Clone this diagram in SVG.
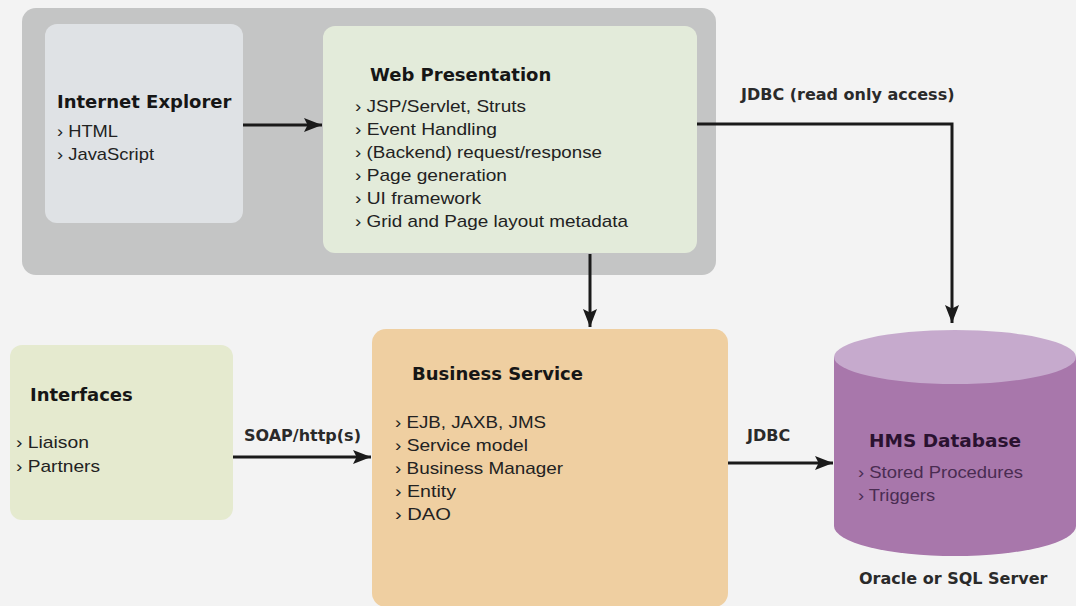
<svg xmlns="http://www.w3.org/2000/svg" width="1076" height="606" viewBox="0 0 1076 606">
<defs>
<marker id="ahb" viewBox="0 0 10 10" refX="10" refY="5" markerWidth="18" markerHeight="14" markerUnits="userSpaceOnUse" orient="auto" preserveAspectRatio="none">
<path d="M0,0 L10,5 L0,10 L2,5 z" fill="#1a1a1a"/>
</marker>
</defs>
<style>
.t{font-family:"DejaVu Sans",Verdana,sans-serif;font-weight:bold;font-size:18px;fill:#161616}
.i{font-family:"Liberation Sans",Arial,sans-serif;font-size:17px;fill:#222}
.l{font-family:"DejaVu Sans",Verdana,sans-serif;font-weight:bold;font-size:16px;fill:#2a2a2a}
.d{font-family:"Liberation Sans",Arial,sans-serif;font-size:17px;fill:#4a2c52}
.c{fill:none;stroke:#1a1a1a;stroke-width:3}
</style>
<rect width="1076" height="606" fill="#f3f3f3"/>
<g id="tier">
<rect x="22" y="8" width="694" height="267" rx="14" fill="#c4c5c5"/>
</g>
<g id="ie">
<rect x="45" y="24" width="198" height="199" rx="12" fill="#dfe2e5"/>
<text class="t" x="57" y="108">Internet Explorer</text>
<text class="i" x="57" y="137" textLength="61" lengthAdjust="spacingAndGlyphs">› HTML</text>
<text class="i" x="57" y="160" textLength="97" lengthAdjust="spacingAndGlyphs">› JavaScript</text>
</g>
<g id="web">
<rect x="323" y="26" width="374" height="227" rx="12" fill="#e3ebda"/>
<text class="t" x="370" y="81">Web Presentation</text>
<text class="i" x="355" y="112" textLength="171" lengthAdjust="spacingAndGlyphs">› JSP/Servlet, Struts</text>
<text class="i" x="355" y="135" textLength="142" lengthAdjust="spacingAndGlyphs">› Event Handling</text>
<text class="i" x="355" y="158" textLength="247" lengthAdjust="spacingAndGlyphs">› (Backend) request/response</text>
<text class="i" x="355" y="181" textLength="152" lengthAdjust="spacingAndGlyphs">› Page generation</text>
<text class="i" x="355" y="204" textLength="126" lengthAdjust="spacingAndGlyphs">› UI framework</text>
<text class="i" x="355" y="227" textLength="273" lengthAdjust="spacingAndGlyphs">› Grid and Page layout metadata</text>
</g>
<g id="interfaces">
<rect x="10" y="345" width="223" height="175" rx="12" fill="#e5eacf"/>
<text class="t" x="30" y="401">Interfaces</text>
<text class="i" x="16" y="448" textLength="73" lengthAdjust="spacingAndGlyphs">› Liaison</text>
<text class="i" x="16" y="472" textLength="84" lengthAdjust="spacingAndGlyphs">› Partners</text>
</g>
<g id="business">
<rect x="372" y="329" width="356" height="278" rx="14" fill="#efcfa1"/>
<text class="t" x="412" y="380">Business Service</text>
<text class="i" x="395" y="428" textLength="151" lengthAdjust="spacingAndGlyphs">› EJB, JAXB, JMS</text>
<text class="i" x="395" y="451" textLength="133" lengthAdjust="spacingAndGlyphs">› Service model</text>
<text class="i" x="395" y="474" textLength="168" lengthAdjust="spacingAndGlyphs">› Business Manager</text>
<text class="i" x="395" y="497" textLength="61" lengthAdjust="spacingAndGlyphs">› Entity</text>
<text class="i" x="395" y="520" textLength="56" lengthAdjust="spacingAndGlyphs">› DAO</text>
</g>
<g id="db">
<path d="M834,357 L834,526 A121,30 0 0 0 1076,526 L1076,357 Z" fill="#a877ab"/>
<ellipse cx="955" cy="357" rx="121" ry="27" fill="#c6aacd"/>
<text class="l" x="869" y="447" style="fill:#2a1230;font-size:18.5px">HMS Database</text>
<text class="d" x="858" y="478" textLength="165" lengthAdjust="spacingAndGlyphs">› Stored Procedures</text>
<text class="d" x="858" y="501" textLength="77" lengthAdjust="spacingAndGlyphs">› Triggers</text>
<text class="l" x="859" y="584">Oracle or SQL Server</text>
</g>
<g id="connectors">
<line class="c" x1="243" y1="125" x2="322" y2="125" marker-end="url(#ahb)"/>
<polyline class="c" points="697,124 952,124 952,323" marker-end="url(#ahb)"/>
<line class="c" x1="590" y1="254" x2="590" y2="327" marker-end="url(#ahb)"/>
<line class="c" x1="233" y1="457" x2="371" y2="457" marker-end="url(#ahb)"/>
<line class="c" x1="728" y1="463" x2="833" y2="463" marker-end="url(#ahb)"/>
<text class="l" x="741" y="100">JDBC (read only access)</text>
<text class="l" x="244" y="441">SOAP/http(s)</text>
<text class="l" x="747" y="441">JDBC</text>
</g>
</svg>
